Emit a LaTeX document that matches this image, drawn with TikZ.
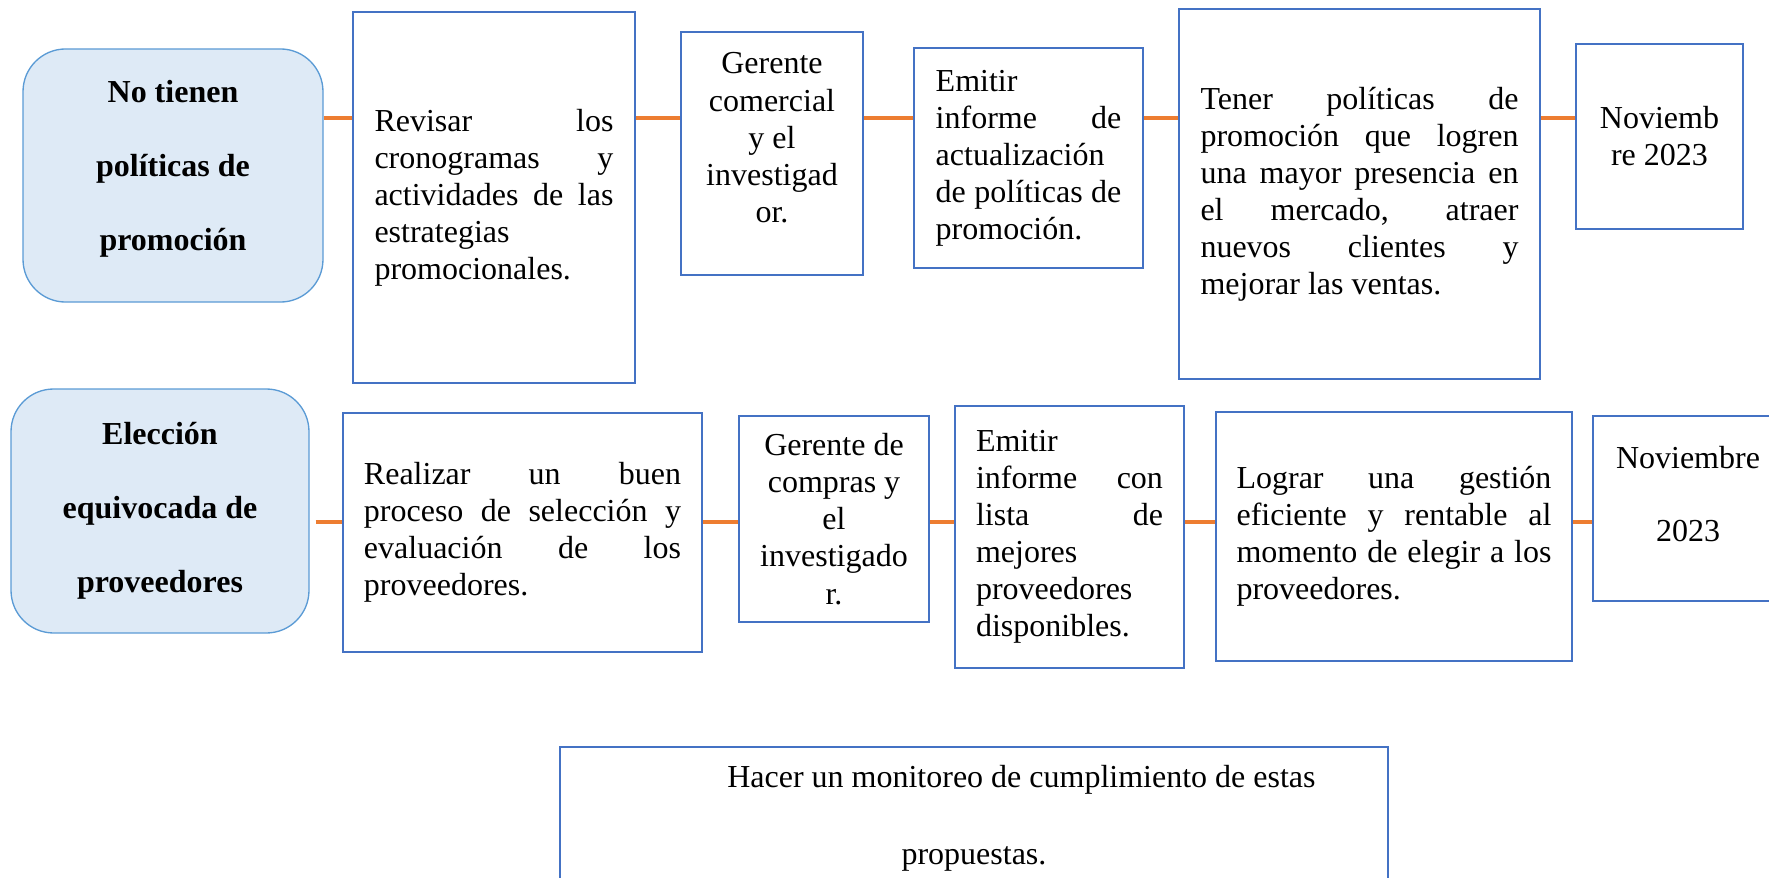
\documentclass[tikz,border=0pt]{standalone}
\usepackage{fontspec}
\setmainfont{Liberation Serif}
\definecolor{azul}{HTML}{4472C4}
\definecolor{celeste}{HTML}{5B9BD5}
\definecolor{fondo}{HTML}{DEEAF6}
\definecolor{naranja}{HTML}{ED7D31}
\begin{document}
\begin{tikzpicture}[x = 0.375pt, y = -0.375pt,
		causa/.style = {draw = celeste, line width = 0.5pt, fill = fondo, rounded corners = 16pt, inner sep = 0pt, text width = 108pt, align = flush center, font = \bfseries\fontsize{12}{27.75}\selectfont},
		caja/.style = {draw = azul, line width = 0.9pt, inner sep = 0pt, font = \fontsize{12}{13.9}\selectfont},
		enlace/.style = {draw = naranja, line width = 1.3pt}]
					\useasboundingbox (0, 0) rectangle (1769, 878);
					\coordinate (f1) at (0, 118);
					\coordinate (f2) at (0, 522);
						\node[causa, minimum width = 112.5pt, minimum height = 94.9pt, text depth = 63.3pt] (p1) at (173, 175.5) {No tienen\\políticas de\\promoción};
						\node[caja, minimum width = 105.75pt, minimum height = 139.1pt, text width = 89.6pt, align = justify] (a1) at (494, 197.5) {Revisar los\linebreak cronogramas y\linebreak actividades de las\linebreak estrategias\linebreak promocionales.};
						\node[caja, minimum width = 68.25pt, minimum height = 91.1pt, text width = 62pt, align = flush center, text depth = 67.6pt] (r1) at (772, 153.5) {Gerente\\comercial\\y el\\investigad\\or.};
						\node[caja, minimum width = 85.9pt, minimum height = 82.5pt, text width = 69.6pt, align = justify] (i1) at (1028.5, 158) {Emitir\linebreak informe de\linebreak actualización\linebreak de políticas de\linebreak promoción.};
						\node[caja, minimum width = 135.4pt, minimum height = 138.75pt, text width = 119.25pt, align = justify] (o1) at (1359.5, 194) {Tener políticas de\linebreak promoción que logren\linebreak una mayor presencia en\linebreak el mercado, atraer\linebreak nuevos clientes y\linebreak mejorar las ventas.};
						\node[caja, minimum width = 62.6pt, minimum height = 69.4pt, text width = 58pt, align = flush center] (t1) at (1659.5, 136.5) {Noviemb\\re 2023};
						\draw[enlace] (p1.east |- f1) -- (a1.west |- f1);
						\draw[enlace] (a1.east |- f1) -- (r1.west |- f1);
						\draw[enlace] (r1.east |- f1) -- (i1.west |- f1);
						\draw[enlace] (i1.east |- f1) -- (o1.west |- f1);
						\draw[enlace] (o1.east |- f1) -- (t1.west |- f1);
						\node[causa, minimum width = 111.75pt, minimum height = 91.5pt] (p2) at (160, 511) {Elección\\equivocada de\\proveedores};
						\node[caja, minimum width = 134.6pt, minimum height = 89.6pt, text width = 118.9pt, align = justify] (a2) at (522.5, 532.5) {Realizar un buen\linebreak proceso de selección y\linebreak evaluación de los\linebreak proveedores.};
						\node[caja, minimum width = 71.25pt, minimum height = 77.25pt, text width = 66pt, align = flush center] (r2) at (834, 519) {Gerente de\\compras y\\el\\investigado\\r.};
						\node[caja, minimum width = 85.9pt, minimum height = 98.25pt, text width = 70.1pt, align = justify] (i2) at (1069.5, 537) {Emitir\linebreak informe con\linebreak lista de\linebreak mejores\linebreak proveedores\linebreak disponibles.};
						\node[caja, minimum width = 133.5pt, minimum height = 93.4pt, text width = 118.1pt, align = justify] (o2) at (1394, 536.5) {Lograr una gestión\linebreak eficiente y rentable al\linebreak momento de elegir a los\linebreak proveedores.};
						\node[caja, minimum width = 71.25pt, minimum height = 69.4pt, text width = 66pt, align = flush center, font = \fontsize{12}{27.4}\selectfont, text depth = 38.6pt] (t2) at (1688, 508.5) {Noviembre\\2023};
						\draw[enlace, shorten < = 2.2pt] (p2.east |- f2) -- (a2.west |- f2);
						\draw[enlace] (a2.east |- f2) -- (r2.west |- f2);
						\draw[enlace] (r2.east |- f2) -- (i2.west |- f2);
						\draw[enlace] (i2.east |- f2) -- (o2.west |- f2);
						\draw[enlace] (o2.east |- f2) -- (t2.west |- f2);
						\node[caja, minimum width = 310.5pt, minimum height = 53.25pt, text width = 300pt, align = flush center, font = \fontsize{12}{29}\selectfont] (m) at (974, 818) {\hspace*{1.25cm}Hacer un monitoreo de cumplimiento de estas\\propuestas.};
				\end{tikzpicture}
\end{document}
